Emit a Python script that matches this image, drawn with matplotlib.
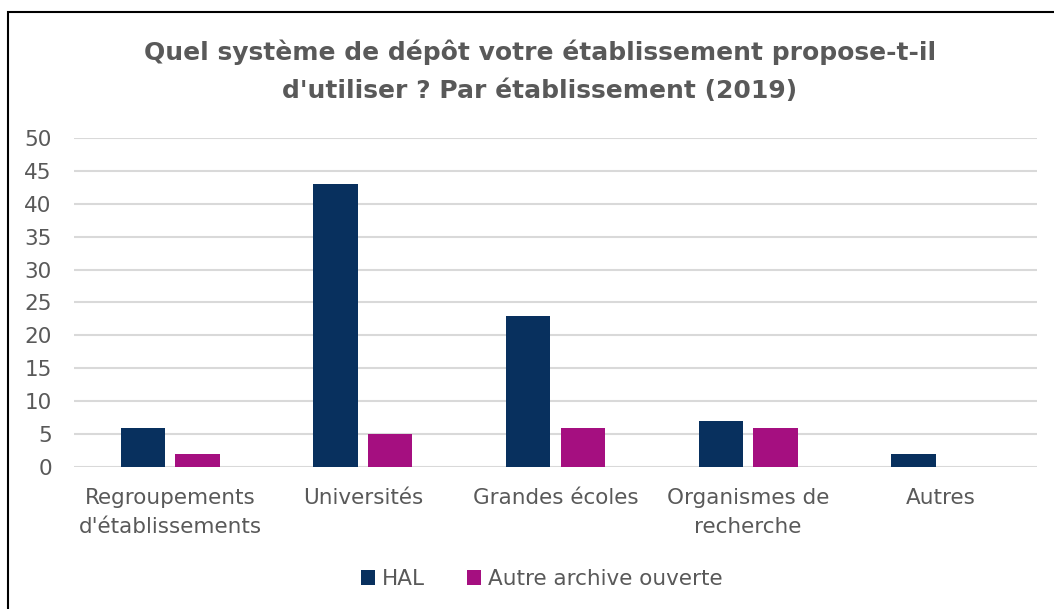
import matplotlib
matplotlib.use('Agg')
import matplotlib.pyplot as plt
import numpy as np
from matplotlib.patches import Rectangle

categories = ["Regroupements\nd'établissements", "Universités", "Grandes écoles",
              "Organismes de\nrecherche", "Autres"]
hal = [6, 43, 23, 7, 2]
autre = [2, 5, 6, 6, 0]
series_names = ["HAL", "Autre archive ouverte"]

plt.rcParams['font.family'] = ['DejaVu Sans']
grey = '#595959'

fig = plt.figure(figsize=(10.54, 6.09), dpi=100)
ax = fig.add_axes([0.0702, 0.2332, 0.9137, 0.5402])

x = np.arange(len(categories))
w = 0.23
ax.bar(x - 0.142, hal, w, color='#08305E', label=series_names[0], zorder=3)
ax.bar(x + 0.142, autre, w, color='#A50F80', label=series_names[1], zorder=3)

ax.set_xlim(-0.5, len(categories) - 0.5)
ax.set_ylim(0, 50)
ax.set_yticks(range(0, 51, 5))
ax.grid(axis='y', color='#D9D9D9', linewidth=1.5, zorder=0)
for s in ax.spines.values():
    s.set_visible(False)
ax.tick_params(axis='both', length=0, colors=grey, labelsize=15.5)
ax.tick_params(axis='y', pad=16)
ax.tick_params(axis='x', pad=15)
ax.set_xticks(x)
ax.set_xticklabels(categories, linespacing=1.55)

fig.text(0.512, 0.883, "Quel système de dépôt votre établissement propose-t-il\nd'utiliser ? Par établissement (2019)",
         ha='center', va='center', fontsize=18, fontweight='bold', color=grey, linespacing=1.75)

leg = fig.legend(loc='center', bbox_to_anchor=(0.514, 0.049), ncol=2, frameon=False,
                 fontsize=15.5, handlelength=0.65, handleheight=0.65, handletextpad=0.3,
                 columnspacing=2.0)
for t in leg.get_texts():
    t.set_color(grey)

fig.patches.append(Rectangle((0.008, -0.01), 1.0, 0.99, transform=fig.transFigure,
                             fill=False, edgecolor='black', linewidth=1.5))

fig.savefig('out.png', dpi=100)
